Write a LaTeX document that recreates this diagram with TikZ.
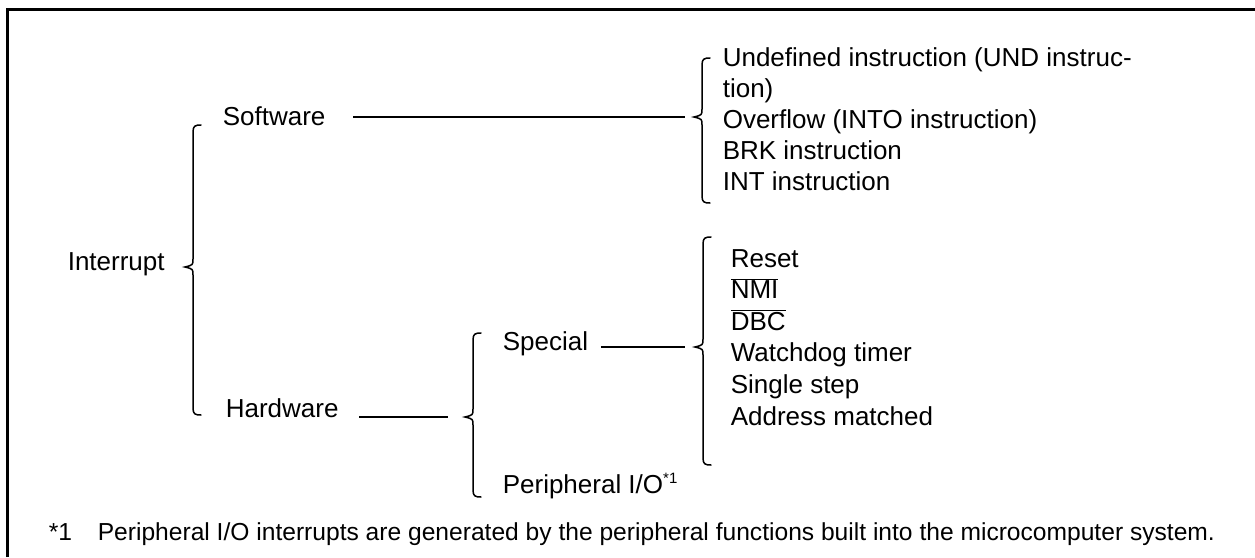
\documentclass[tikz,border=0pt]{standalone}
\usepackage{fontspec}
\setmainfont{Liberation Sans}

% curly brace: x, top, tip, bottom, name of tip
\newcommand{\curl}[5]{%
  \draw[brace] (#1+8,#2) .. controls (#1+2,#2) and (#1,#2+1) .. (#1,#2+7)
    -- (#1,#3-8) .. controls (#1,#3-2) .. (#1-8,#3)
    .. controls (#1,#3+2) .. (#1,#3+8) -- (#1,#4-7)
    .. controls (#1,#4-1) and (#1+2,#4) .. (#1+8,#4);
  \coordinate (#5) at (#1-8,#3);}
\newcommand{\lowact}[1]{$\overline{\hbox{#1}}$}

\begin{document}
\begin{tikzpicture}[x=1pt, y=-1pt, line width=1.6pt,
  every node/.style={inner sep=0pt, anchor=base west,
    font=\fontsize{26}{31}\selectfont},
  brace/.style={line width=1.5pt, line cap=round},
  link/.style={line width=1.6pt},
  note/.style={font=\fontsize{24.6}{30}\selectfont}]
  \useasboundingbox (0,0) rectangle (1255,557);
  % frame, cut off at right and bottom
  \draw[line width=2.2pt] (7.5,557) -- (7.5,9.5) -- (1255,9.5);

  \node (int) at (67,270) {Interrupt};
  \node (sw)  at (222,125) {Software};
  \node (hw)  at (225,417) {Hardware};
  \node (sp)  at (502,350) {Special};
  \node (pio) at (502,493) {Peripheral I/O\raisebox{10pt}{\fontsize{15}{15}\selectfont *1}};

  \curl{193}{125}{267}{415}{intb}
  \curl{702}{58}{117}{203}{swb}
  \curl{473}{333}{417}{497}{hwb}
  \curl{703}{237}{347}{465}{spb}

  % links to the braces
  \draw[link, shorten <=27pt, shorten >=9pt] (sw.east |- swb) -- (swb);
  \draw[link, shorten <=20pt, shorten >=17pt] (hw.east |- hwb) -- (hwb);
  \draw[link, shorten <=12pt, shorten >=10pt] (sp.east |- spb) -- (spb);

  % software interrupts
  \foreach \txt [count=\i] in {Undefined instruction (UND instruc-, tion),
      Overflow (INTO instruction), BRK instruction, INT instruction}
    \node (sw\i) at (722,35+31*\i) {\txt};
  % special interrupts
  \foreach \txt [count=\i] in {Reset, \lowact{NMI}, \lowact{DBC},
      Watchdog timer, Single step, Address matched}
    \node (sp\i) at (730,235.4+31.6*\i) {\txt};

  \node[note] (fnm) at (48,540) {*1};
  \node[note] (fn)  at (97,540) {Peripheral I/O interrupts are generated by the peripheral functions built into the microcomputer system.};
\end{tikzpicture}
\end{document}
